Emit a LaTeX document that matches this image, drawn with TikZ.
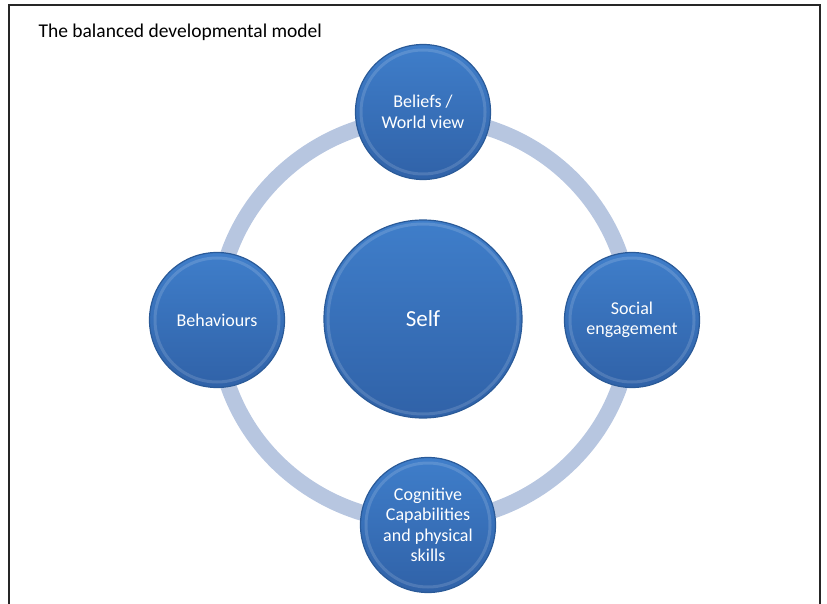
\documentclass[tikz,border=0pt]{standalone}
\usepackage{fontspec}
\setmainfont{Carlito}
\usetikzlibrary{shapes,arrows}
\definecolor{ringblue}{HTML}{B7C6E0}
\definecolor{ballin}{HTML}{3F7ECA}
\definecolor{ballout}{HTML}{3062A8}
\definecolor{balledge}{HTML}{2A5A98}

\begin{document}
\begin{tikzpicture}[x=1pt, y=-1pt, node distance=200pt]
\tikzstyle{ball} = [circle, draw=balledge, line width=1.2pt, top color=ballin,
    bottom color=ballout, text=white, align=center, font=\fontsize{18}{20.5}\selectfont,
    minimum size=135pt, inner sep=0pt]
\tikzstyle{core} = [ball, minimum size=198pt, font=\fontsize{23}{26}\selectfont]
\tikzstyle{ring} = [draw=ringblue, line width=16pt]
\tikzstyle{rim} = [draw=white, opacity=0.14, line width=3pt]
    \useasboundingbox (0,0) rectangle (827,604);
    % frame and title
    \draw [line width=2.5pt, black!85] (9,604) -- (9,5) -- (820,5) -- (820,604);
    \node [anchor=west, font=\fontsize{19.5}{22}\selectfont] (title) at (35,32)
        {The balanced developmental model};
    % the ring goes under everything
    \draw [ring] (424,320) circle [x radius=207pt, y radius=202pt];
    % We start with the self in the middle
    \node [core] (self) at (423,319) {Self};
    \node [ball, above of=self, node distance=207pt] (beliefs) {Beliefs /\\World view};
    \node [ball, left of=self, node distance=206pt, yshift=-1pt] (behaviours) {Behaviours};
    \node [ball, right of=self, node distance=209pt, yshift=-1pt] (social) {Social\\engagement};
    \node [ball, below of=self, node distance=206pt, xshift=5pt] (cognitive)
        {Cognitive\\Capabilities\\and physical\\skills};
    % a soft light edge inside each ball
    \foreach \b/\r in {self/95, beliefs/62, behaviours/62, social/62, cognitive/62}
        \draw [rim] (\b.center) circle [radius=\r pt];
\end{tikzpicture}
\end{document}
